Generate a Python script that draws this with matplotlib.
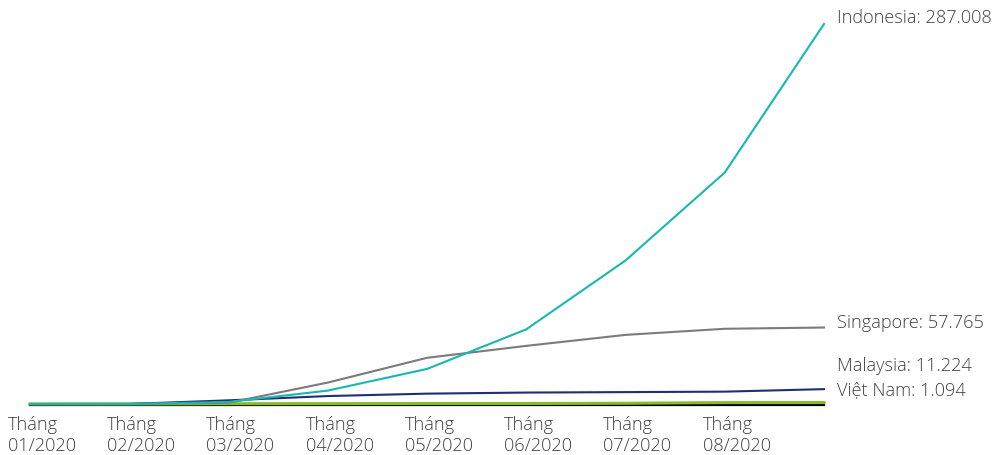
import matplotlib.pyplot as plt

plt.rcParams['font.family'] = ['Open Sans', 'DejaVu Sans']

# cumulative cases, end of each month 01/2020 .. 09/2020
months = ['01/2020', '02/2020', '03/2020', '04/2020', '05/2020',
          '06/2020', '07/2020', '08/2020', '09/2020']
indonesia = [0, 0, 1528, 10118, 26473, 56385, 108376, 174796, 287008]
singapore = [13, 102, 926, 16169, 34884, 43907, 52205, 56812, 57765]
malaysia = [8, 25, 2766, 6002, 7819, 8639, 8976, 9334, 11224]
vietnam = [2, 16, 212, 270, 328, 355, 558, 1044, 1094]

tick_labels = ['Tháng\n' + m for m in months[:8]]

series = [
    ('Indonesia', indonesia, '#17b8b0', 7, 1.5),
    ('Singapore', singapore, '#7b7b7b', 6, 1.5),
    ('Malaysia', malaysia, '#1e2f72', 24, 1.5),
    ('Việt Nam', vietnam, '#86bc25', 13, 2.2),
]
txt = '#404040'

fig = plt.figure(figsize=(9.97, 4.56), dpi=100)
ax = fig.add_axes([0, 0, 1, 1])

x = list(range(len(months)))
# baseline under the series
ax.plot([x[0], x[-1]], [-420, -420], color='black', lw=1.6, zorder=1)

for name, vals, color, dy, lw in series[::-1]:
    ax.plot(x, vals, color=color, lw=lw, zorder=2)
for name, vals, color, dy, lw in series:
    label = '%s: %s' % (name, format(vals[-1], ',').replace(',', '.'))
    ax.annotate(label, xy=(x[-1], vals[-1]), xytext=(13, dy),
                textcoords='offset pixels', ha='left', va='center',
                fontsize=13.1, color=txt, fontweight='light')

# month labels under the axis
for i, lab in enumerate(tick_labels):
    ax.text(i + 0.12, -8000, lab, ha='center', va='top',
            multialignment='left', fontsize=13.1, color=txt,
            fontweight='light', linespacing=1.25)

px = 99.25
ax.set_xlim(-30 / px, (997 - 30) / px)
scale = 287008 / 380
ax.set_ylim(-(456 - 405) * scale, 287008 + 25 * scale)
ax.axis('off')

fig.savefig('out.png', dpi=100)
